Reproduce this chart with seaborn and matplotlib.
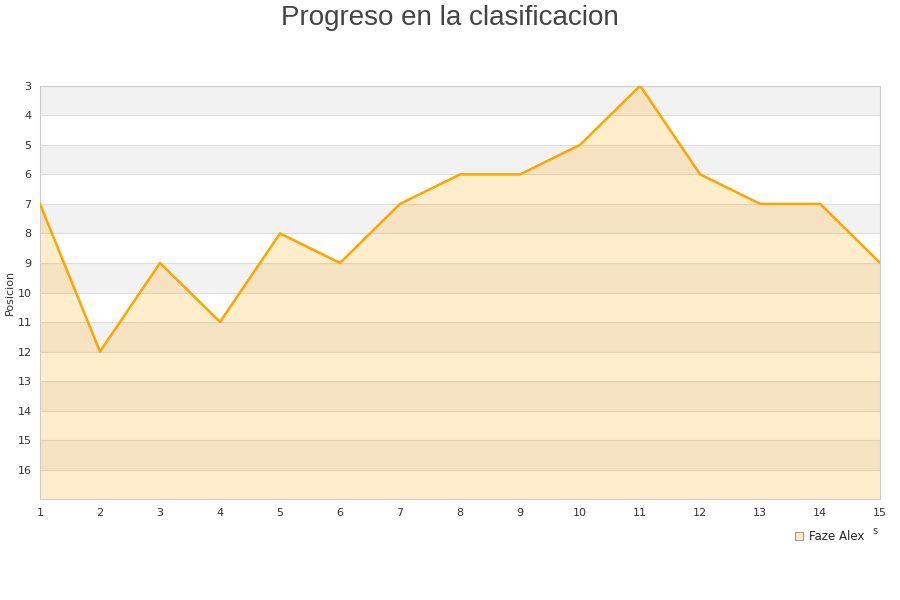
import pandas as pd
import matplotlib.pyplot as plt
import seaborn as sns
from matplotlib.lines import Line2D

# data
jornadas = list(range(1, 16))
posicion = [7, 12, 9, 11, 8, 9, 7, 6, 6, 5, 3, 6, 7, 7, 9]
equipo = 'Faze Alex'

df = pd.DataFrame({'Jornada': jornadas, 'Posicion': posicion})

sns.set_style('white')
fig = plt.figure(figsize=(9, 6), dpi=100)
ax = fig.add_axes([0.0444, 0.168, 0.9336, 0.689])

# alternating bands
for k in range(3, 17):
    if (k - 3) % 2 == 0:
        ax.axhspan(k, k + 1, color='#F2F2F2', zorder=0, lw=0)
    ax.axhline(k, color='#DDDDDD', lw=0.8, zorder=1)

ax.fill_between(df['Jornada'], df['Posicion'], 17, color='#FFA500', alpha=0.2, lw=0, zorder=2)
sns.lineplot(data=df, x='Jornada', y='Posicion', ax=ax, color='#FFA500', lw=1.8, zorder=3)

ax.set_xlim(1, 15)
ax.set_ylim(17, 3)
ax.set_xticks(jornadas)
ax.set_yticks(range(3, 17))
ax.tick_params(labelsize=8, colors='#333333', length=0, pad=6)
ax.set_xlabel('')
ax.set_ylabel('Posicion', fontsize=8, color='#333333', labelpad=2)
for s in ax.spines.values():
    s.set_color('#CCCCCC')
    s.set_linewidth(0.8)

fig.text(0.5, 0.992, 'Progreso en la clasificacion', ha='center', va='top',
         fontsize=20, color='#444444', family='Liberation Sans')
fig.text(0.972, 0.115, 's', ha='center', va='center', fontsize=7, color='#333333')

handle = Line2D([], [], marker='s', ls='', markersize=6,
                markerfacecolor='#FFEBC8', markeredgecolor='#999999', markeredgewidth=0.8)
fig.legend([handle], [equipo], loc='center', bbox_to_anchor=(0.921, 0.105),
           frameon=False, fontsize=8.5, handletextpad=0.4, handlelength=1)

fig.savefig('out.png', dpi=100)
